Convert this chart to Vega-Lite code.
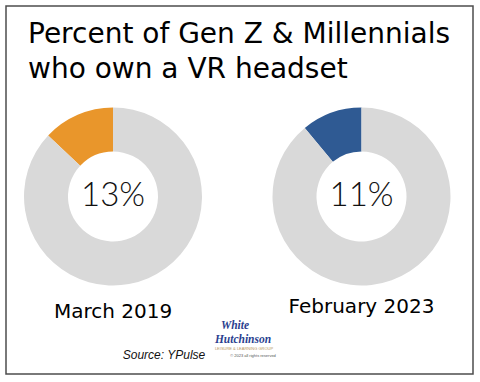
{
  "$schema": "https://vega.github.io/schema/vega-lite/v6.json",
  "width": 467,
  "height": 368,
  "autosize": {"type": "none"},
  "padding": {"left": 6, "top": 6, "right": 7, "bottom": 8},
  "background": "white",
  "config": {"view": {"stroke": "#4d4d4d", "strokeWidth": 1.5}},
  "title": {
    "text": ["Percent of Gen Z & Millennials", "who own a VR headset"],
    "anchor": "start",
    "frame": "group",
    "orient": "top",
    "font": "DejaVu Sans",
    "fontSize": 28,
    "fontWeight": "normal",
    "color": "#000000",
    "lineHeight": 35,
    "baseline": "top",
    "offset": 0,
    "dx": 22,
    "dy": 78
  },
  "datasets": {
    "share": [
      {"period": "March 2019", "part": "own", "value": 13, "label": "13%"},
      {"period": "March 2019", "part": "rest", "value": 87, "label": ""},
      {"period": "February 2023", "part": "own", "value": 11, "label": "11%"},
      {"period": "February 2023", "part": "rest", "value": 89, "label": ""}
    ],
    "credits": [
      {"note": "Source: YPulse"}
    ],
    "logo": [
      {"line": "White", "kind": "a"},
      {"line": "Hutchinson", "kind": "b"}
    ],
    "logosmall": [
      {"line": "LEISURE & LEARNING GROUP", "kind": "c"},
      {"line": "© 2023 all rights reserved", "kind": "d"}
    ]
  },
  "layer": [
    {
      "data": {"name": "share"},
      "transform": [
        {"stack": "value", "groupby": ["period"], "sort": [{"field": "part", "order": "descending"}], "as": ["v0", "v1"], "offset": "normalize"}
      ],
      "mark": {"type": "arc", "outerRadius": 89, "innerRadius": 45, "yOffset": 6.5},
      "encoding": {
        "x": {"field": "period", "type": "nominal", "scale": {"type": "point", "domain": ["March 2019", "February 2023"], "range": [107, 355.5], "padding": 0}, "axis": null},
        "theta": {"field": "v0", "type": "quantitative", "scale": {"domain": [0, 1], "range": [0, 6.283185307]}},
        "theta2": {"field": "v1"},
        "color": {
          "condition": {"test": "datum.part === 'rest'", "value": "#D9D9D9"},
          "field": "period", "type": "nominal",
          "scale": {"domain": ["March 2019", "February 2023"], "range": ["#E9962B", "#2F5A93"]},
          "legend": null
        }
      }
    },
    {
      "data": {"name": "share"},
      "transform": [{"filter": "datum.part === 'own'"}],
      "mark": {"type": "text", "font": "Lato", "fontWeight": 300, "fontSize": 33, "align": "center", "baseline": "middle", "yOffset": 6, "color": "#111111"},
      "encoding": {
        "x": {"field": "period", "type": "nominal", "scale": {"type": "point", "domain": ["March 2019", "February 2023"], "range": [107, 355.5], "padding": 0}, "axis": null},
        "text": {"field": "label"}
      }
    },
    {
      "data": {"name": "share"},
      "transform": [{"filter": "datum.part === 'own' && datum.period === 'March 2019'"}],
      "mark": {"type": "text", "font": "DejaVu Sans", "fontSize": 20, "align": "center", "baseline": "alphabetic", "yOffset": 128, "color": "#000000"},
      "encoding": {
        "x": {"field": "period", "type": "nominal", "scale": {"type": "point", "domain": ["March 2019", "February 2023"], "range": [107, 355.5], "padding": 0}, "axis": null},
        "text": {"field": "period"}
      }
    },
    {
      "data": {"name": "share"},
      "transform": [{"filter": "datum.part === 'own' && datum.period === 'February 2023'"}],
      "mark": {"type": "text", "font": "DejaVu Sans", "fontSize": 20, "align": "center", "baseline": "alphabetic", "yOffset": 123, "color": "#000000"},
      "encoding": {
        "x": {"field": "period", "type": "nominal", "scale": {"type": "point", "domain": ["March 2019", "February 2023"], "range": [107, 355.5], "padding": 0}, "axis": null},
        "text": {"field": "period"}
      }
    },
    {
      "data": {"name": "credits"},
      "mark": {"type": "text", "font": "Liberation Sans", "fontStyle": "italic", "fontSize": 12, "align": "center", "baseline": "alphabetic", "color": "#111111"},
      "encoding": {
        "x": {"value": 158},
        "y": {"value": 353},
        "text": {"field": "note"}
      }
    },
    {
      "data": {"name": "logo"},
      "mark": {"type": "text", "font": "Liberation Serif", "fontStyle": "italic", "fontWeight": "bold", "fontSize": 11.5, "align": "center", "baseline": "alphabetic", "color": "#2B3F8F"},
      "encoding": {
        "x": {"field": "kind", "type": "nominal", "scale": {"type": "point", "domain": ["a", "b"], "range": [229, 237], "padding": 0}, "axis": null},
        "y": {"field": "kind", "type": "nominal", "scale": {"type": "point", "domain": ["a", "b"], "range": [323, 337], "padding": 0}, "axis": null},
        "text": {"field": "line"}
      }
    },
    {
      "data": {"name": "logosmall"},
      "mark": {"type": "text", "font": "Liberation Sans", "fontSize": 4, "align": "center", "baseline": "alphabetic"},
      "encoding": {
        "x": {"field": "kind", "type": "nominal", "scale": {"type": "point", "domain": ["c", "d"], "range": [238, 247], "padding": 0}, "axis": null},
        "y": {"field": "kind", "type": "nominal", "scale": {"type": "point", "domain": ["c", "d"], "range": [344, 351], "padding": 0}, "axis": null},
        "color": {"field": "kind", "type": "nominal", "scale": {"domain": ["c", "d"], "range": ["#B8955E", "#555555"]}, "legend": null},
        "text": {"field": "line"}
      }
    }
  ],
  "resolve": {"scale": {"x": "independent", "y": "independent", "color": "independent"}}
}
